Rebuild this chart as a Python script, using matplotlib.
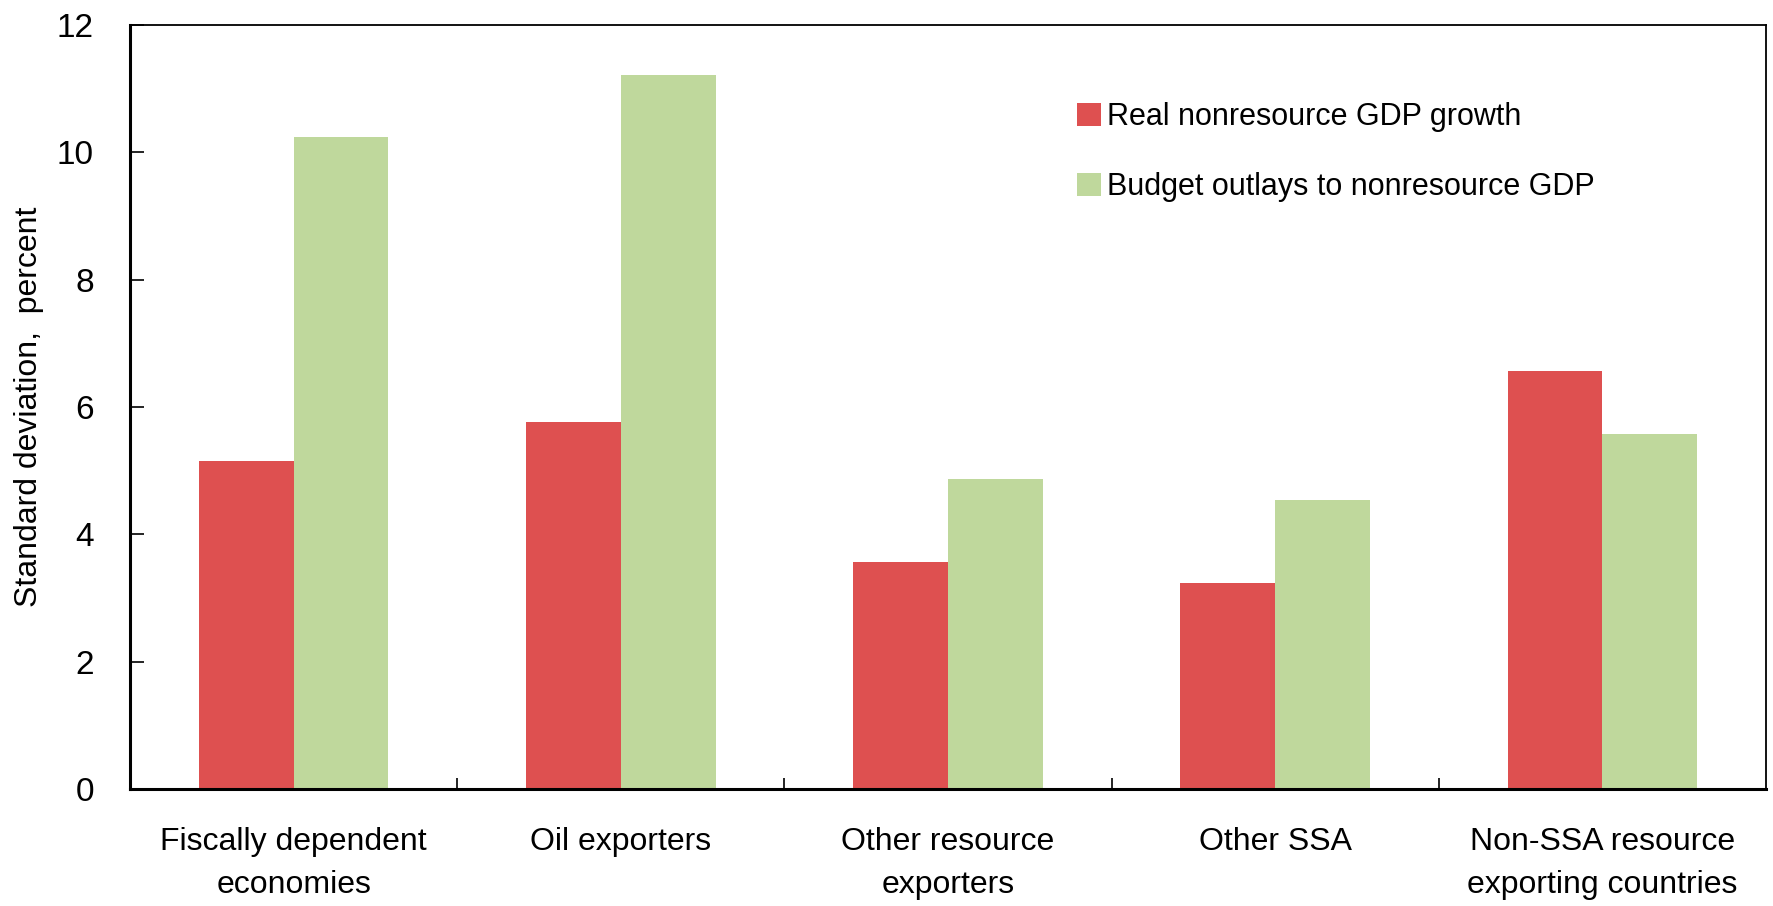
import numpy as np
import matplotlib.pyplot as plt

# Data
categories = ['Fiscally dependent\neconomies', 'Oil exporters', 'Other resource\nexporters',
              'Other SSA', 'Non-SSA resource\nexporting countries']
growth = [5.15, 5.76, 3.57, 3.23, 6.56]
outlays = [10.24, 11.22, 4.87, 4.54, 5.57]

plt.rcParams['font.family'] = ['Liberation Sans', 'DejaVu Sans']

fig = plt.figure(figsize=(17.73, 9.06), dpi=100)
ax = fig.add_axes([130 / 1773, 1 - 789 / 906, (1766 - 130) / 1773, (789 - 25) / 906])

x = np.arange(len(categories))
w = 0.29
ax.bar(x - w / 2, growth, width=w, color='#de5050', label='Real nonresource GDP growth')
ax.bar(x + w / 2, outlays, width=w, color='#bfd89c', label='Budget outlays to nonresource GDP')

ax.set_xlim(-0.5, len(categories) - 0.5)
ax.set_ylim(0, 12)
ax.set_yticks(range(0, 13, 2))
ax.tick_params(axis='y', direction='in', length=10, width=1.2, labelsize=24, pad=26)
ax.set_xticks(x[:-1] + 0.5)
ax.set_xticklabels([])
ax.tick_params(axis='x', direction='in', length=8, width=1.2)

# category labels centred under each pair of bars
for xi, lab in zip(x, categories):
    ax.text(xi, -0.6, lab, ha='center', va='top', fontsize=23,
            linespacing=1.55)

ax.set_ylabel('Standard deviation,  percent', fontsize=23, labelpad=9)

for s in ['left', 'bottom']:
    ax.spines[s].set_linewidth(2.2)
for s in ['top', 'right']:
    ax.spines[s].set_linewidth(1.3)

ax.legend(loc='upper left', bbox_to_anchor=(0.562, 0.935), frameon=False,
          prop={'size': 22}, handlelength=0.8, handleheight=0.8,
          handletextpad=0.2, labelspacing=1.3)

fig.savefig('out.png', dpi=100)
